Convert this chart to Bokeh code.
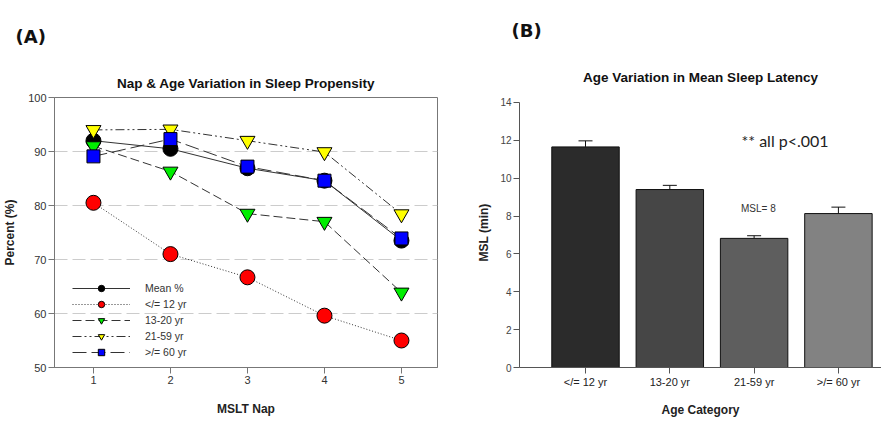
from bokeh.plotting import figure
from bokeh.models import Label, FixedTicker, Whisker, TeeHead, ColumnDataSource, Legend, Title
from bokeh.layouts import row
from bokeh.embed import file_html
from bokeh.resources import INLINE

# ---------------- data ----------------
naps = [1, 2, 3, 4, 5]
mean_pct = [92.0, 90.5, 86.9, 84.6, 73.5]
le12 = [80.5, 71.0, 66.7, 59.6, 55.0]
age13_20 = [91.0, 86.3, 78.5, 77.0, 63.9]
age21_59 = [94.0, 94.1, 92.0, 89.9, 78.4]
ge60 = [89.1, 92.3, 87.2, 84.6, 73.9]
series_names = ["Mean %", "</= 12 yr", "13-20 yr", "21-59 yr", ">/= 60 yr"]

categories = ["</= 12 yr", "13-20 yr", "21-59 yr", ">/= 60 yr"]
msl = [11.65, 9.40, 6.82, 8.13]
msl_err = [0.32, 0.22, 0.14, 0.34]
bar_colors = ["#2b2b2b", "#464646", "#5e5e5e", "#828282"]

FONT = "Liberation Sans"

# ---------------- panel A ----------------
p1 = figure(frame_width=383, frame_height=270, x_range=(0.494, 5.468), y_range=(50, 100),
            output_backend="svg", toolbar_location=None,
            min_border_left=54, min_border_right=30, min_border_top=97, min_border_bottom=50)
p1.title.visible = False
p1.outline_line_color = "#777777"
p1.xgrid.visible = False
p1.ygrid.ticker = FixedTicker(ticks=[60, 70, 80, 90])
p1.ygrid.grid_line_color = "#cccccc"
p1.ygrid.grid_line_dash = "13 5"
p1.ygrid.grid_line_width = 1.2

xa1, ya1 = p1.xaxis[0], p1.yaxis[0]
ya1.ticker = FixedTicker(ticks=[50, 60, 70, 80, 90, 100])
xa1.ticker = FixedTicker(ticks=naps)
for ax in (xa1, ya1):
    ax.minor_tick_line_color = None
    ax.major_tick_in = 0
    ax.major_tick_out = 6
    ax.major_label_standoff = 2
    ax.axis_line_color = "#777777"
    ax.major_tick_line_color = "#777777"
    ax.major_label_text_font = FONT
    ax.major_label_text_font_size = "11px"
    ax.major_label_text_color = "#333333"
    ax.axis_label_text_font = FONT
    ax.axis_label_text_font_size = "12px"
    ax.axis_label_text_font_style = "bold"
    ax.axis_label_text_color = "#222222"
xa1.axis_label = "MSLT Nap"
ya1.axis_label = "Percent (%)"
xa1.axis_label_standoff = 15
ya1.axis_label_standoff = 8

specs = [
    (mean_pct, "solid", "circle", "black", 15),
    (le12, "1 2", "circle", "red", 15),
    (age13_20, "9 4", "inverted_triangle", "#00ee00", 15),
    (age21_59, "9 3 2 3 2 3", "inverted_triangle", "#ffff00", 15),
    (ge60, "14 5", "square", "#0000ff", 13),
]
items = []
for (vals, dash, marker, color, size), name in zip(specs, series_names):
    ln = p1.line(naps, vals, line_color="#333333", line_width=1, line_dash=dash)
    sc = p1.scatter(naps, vals, marker=marker, size=size, fill_color=color,
                    line_color="black", line_width=1)
    items.append((name, [ln, sc]))

legend = Legend(items=items, location=(18, 7), orientation="vertical")
legend.background_fill_alpha = 0
legend.border_line_color = None
legend.glyph_width = 58
legend.glyph_height = 16
legend.label_height = 15
legend.spacing = 0
legend.padding = 0
legend.label_standoff = 15
legend.label_text_font = FONT
legend.label_text_font_size = "10.5px"
legend.label_text_color = "#333333"
p1.add_layout(legend, "center")

p1.add_layout(Title(text="Nap & Age Variation in Sleep Propensity", align="center",
                    text_font=FONT, text_font_size="13.5px", text_font_style="bold",
                    text_color="#111111", standoff=14), "above")
p1.add_layout(Title(text="(A)", align="left", offset=-39, text_font="DejaVu Sans",
                    text_font_size="18px", text_font_style="bold",
                    text_color="#111111", standoff=40), "above")

# ---------------- panel B ----------------
pos = list(range(1, len(categories) + 1))
p2 = figure(frame_width=362, frame_height=270, x_range=(0.217, 4.511), y_range=(0, 14.26),
            output_backend="svg", toolbar_location=None,
            min_border_left=52, min_border_right=0, min_border_top=97, min_border_bottom=50)
p2.title.visible = False
p2.outline_line_color = None
p2.grid.visible = False
xa2, ya2 = p2.xaxis[0], p2.yaxis[0]
ya2.ticker = FixedTicker(ticks=[0, 2, 4, 6, 8, 10, 12, 14])
ya2.bounds = (0, 14)
xa2.ticker = FixedTicker(ticks=pos)
xa2.major_label_overrides = {i: c for i, c in zip(pos, categories)}
for ax in (xa2, ya2):
    ax.minor_tick_line_color = None
    ax.major_tick_in = 0
    ax.major_tick_out = 6
    ax.major_label_standoff = 2
    ax.axis_line_color = "#555555"
    ax.major_tick_line_color = "#555555"
    ax.major_label_text_font = FONT
    ax.axis_label_text_font = FONT
    ax.axis_label_text_font_size = "12px"
    ax.axis_label_text_font_style = "bold"
    ax.axis_label_text_color = "#222222"
ya2.major_label_text_font_size = "10px"
ya2.major_label_text_color = "#444444"
xa2.major_label_text_font_size = "11px"
xa2.major_label_text_color = "#222222"
xa2.axis_label = "Age Category"
ya2.axis_label = "MSL (min)"
xa2.axis_label_standoff = 12
ya2.axis_label_standoff = 6

src = ColumnDataSource(dict(x=pos, top=msl, upper=[m + e for m, e in zip(msl, msl_err)],
                            color=bar_colors))
p2.vbar(x="x", top="top", width=0.8, fill_color="color", line_color="#111111",
        line_width=1, source=src)
p2.add_layout(Whisker(base="x", lower="top", upper="upper", source=src,
                      line_color="#111111", line_width=1,
                      upper_head=TeeHead(size=14, line_color="#111111", line_width=1),
                      lower_head=None))

p2.add_layout(Title(text="Age Variation in Mean Sleep Latency", align="center",
                    text_font=FONT, text_font_size="13.5px", text_font_style="bold",
                    text_color="#111111", standoff=26), "above")
p2.add_layout(Title(text="(B)", align="left", offset=-8, text_font="DejaVu Sans",
                    text_font_size="18px", text_font_style="bold",
                    text_color="#111111", standoff=28), "above")
p2.add_layout(Label(x=2.85, y=12.0, text="** all p<.001", text_align="left",
                    text_baseline="middle", text_font="Lato",
                    text_font_size="16px", text_color="#222222"))
p2.add_layout(Label(x=3.05, y=8.4, text="MSL= 8", text_align="center",
                    text_baseline="middle", text_font=FONT,
                    text_font_size="10px", text_color="#333333"))

layout = row(p1, p2, spacing=0)
open("out.html", "w").write(file_html(layout, INLINE))
